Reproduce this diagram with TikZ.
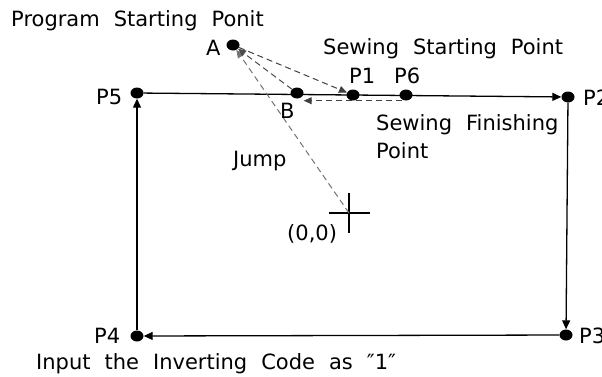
\documentclass[tikz,border=0pt]{standalone}
\usepackage{fontspec}
\setmainfont{DejaVu Sans}[WordSpace=2.1]
\usetikzlibrary{arrows.meta,shapes.geometric}
\begin{document}
\begin{tikzpicture}[x=1pt,y=-1pt,
  dot/.style={ellipse,fill=black,inner sep=0pt,minimum width=13pt,minimum height=11pt},
  lbl/.style={inner sep=0pt,anchor=base west,font=\fontsize{21}{24}\selectfont},
  path/.style={line width=1.3pt,-{Triangle[length=9pt,width=8pt]}},
  jumpline/.style={line width=1pt,dash pattern=on 6pt off 4pt,-{Triangle[length=8pt,width=7pt]}},
  ]
\useasboundingbox (0,0) rectangle (602,376);
% points
\node[dot] (A) at (233,45) {};
\node[dot] (B) at (297,93) {};
\node[dot] (P1) at (353,95) {};
\node[dot] (P6) at (406,95) {};
\node[dot] (P5) at (137,93) {};
\node[dot] (P2) at (568,97) {};
\node[dot] (P3) at (566,335) {};
\node[dot] (P4) at (137,336) {};
\coordinate (O) at (349,213);
\coordinate (Ol) at (329,213);
\coordinate (Or) at (370,213);
\coordinate (Ot) at (349,193);
\coordinate (Ob) at (349,233);
% origin cross
\draw[line width=1.3pt] (Ol) -- (Or) (Ot) -- (Ob);
% sewing path
\draw[path] (P5) -- (P2);
\draw[path] (P2) -- (P3);
\draw[path] (P3) -- (P4);
\draw[path] (P4) -- (P5);
% jumps
\draw[jumpline,black!55] (O) -- (A);
\draw[jumpline,black!70] (B) -- (A);
\draw[jumpline,black!75] (A) -- (P1);
\draw[jumpline,black!75] ([xshift=-4pt]P6.south) -- (P6.south -| B.east);
% labels
\node[lbl] (tprog) at (11,26) {Program Starting Ponit};
\node[lbl] (tss) at (323,54) {Sewing Starting Point};
\node[lbl] (tsf) at (376,130) {Sewing Finishing};
\node[lbl] (tsfp) at (376,158) {Point};
\node[lbl] (tjump) at (233,166) {Jump};
\node[lbl] (torg) at (287,240) {(0,0)};
\node[lbl] (tinv) at (36,369) {Input the Inverting Code as ″1″};
\node[lbl] (lA) at (206,55) {A};
\node[lbl] (lB) at (280,118) {B};
\node[lbl] (lP1) at (349,83) {P1};
\node[lbl] (lP6) at (394,83) {P6};
\node[lbl] (lP5) at (96,104) {P5};
\node[lbl] (lP2) at (583,105) {P2};
\node[lbl] (lP3) at (579,343) {P3};
\node[lbl] (lP4) at (94,343) {P4};
\end{tikzpicture}
\end{document}
